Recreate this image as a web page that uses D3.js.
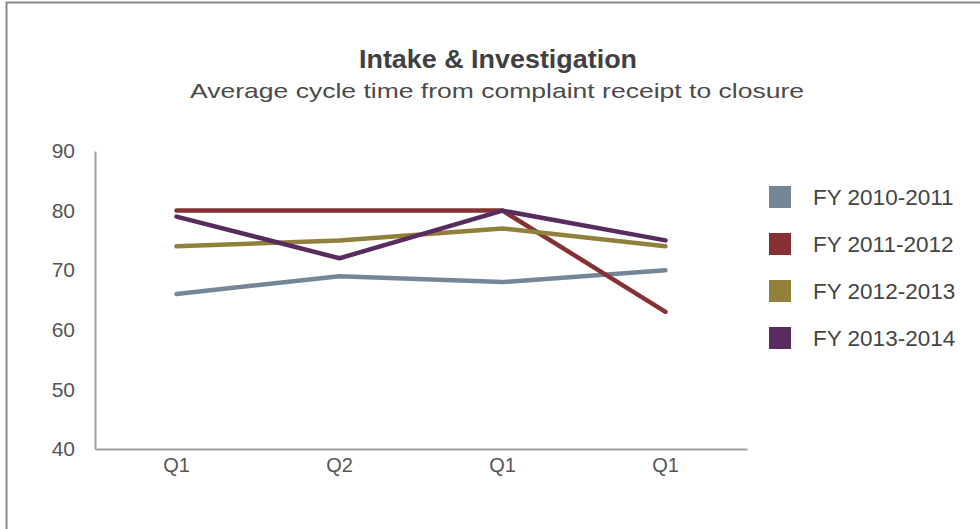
<!DOCTYPE html>
<html>
<head>
<meta charset="utf-8">
<script src="https://cdn.jsdelivr.net/npm/d3@7"></script>
<style>
  body { margin: 0; background: #fff; }
  svg { display: block; font-family: "Liberation Sans", Arial, sans-serif; }
</style>
</head>
<body>
<svg id="chart"></svg>
<script>
var quarters = ["Q1", "Q2", "Q1", "Q1"];
var seriesNames = ["FY 2010-2011", "FY 2011-2012", "FY 2012-2013", "FY 2013-2014"];
var fy1011 = [66, 69, 68, 70];
var fy1112 = [80, 80, 80, 63];
var fy1213 = [74, 75, 77, 74];
var fy1314 = [79, 72, 80, 75];
var yTicks = [40, 50, 60, 70, 80, 90];
var colors = ["#748796", "#863234", "#917f3c", "#582c5e"];

var width = 980,
    height = 529;

var svg = d3.select("#chart")
    .attr("width", width)
    .attr("height", height);

// frame (top + left edge only, like the source screenshot)
svg.append("line")
    .attr("x1", 6).attr("x2", width).attr("y1", 2.5).attr("y2", 2.5)
    .attr("stroke", "#8a8a8a").attr("stroke-width", 2);
svg.append("line")
    .attr("x1", 6.5).attr("x2", 6.5).attr("y1", 2).attr("y2", height)
    .attr("stroke", "#8a8a8a").attr("stroke-width", 2);

// titles
svg.append("text")
    .attr("x", 498).attr("y", 68)
    .attr("text-anchor", "middle")
    .attr("font-size", 25).attr("font-weight", "bold")
    .attr("fill", "#404040")
    .attr("textLength", 278).attr("lengthAdjust", "spacingAndGlyphs")
    .text("Intake & Investigation");

svg.append("text")
    .attr("x", 497).attr("y", 98)
    .attr("text-anchor", "middle")
    .attr("font-size", 21)
    .attr("fill", "#4a4a4a")
    .attr("textLength", 614).attr("lengthAdjust", "spacingAndGlyphs")
    .text("Average cycle time from complaint receipt to closure");

var x = d3.scaleBand()
    .domain(d3.range(quarters.length))
    .range([95, 747]);

var y = d3.scaleLinear()
    .domain([40, 90])
    .range([449, 151]);

// y axis
var yAxis = svg.append("g")
    .attr("transform", "translate(95,0)")
    .call(d3.axisLeft(y).tickValues(yTicks).tickSize(0).tickPadding(20));
yAxis.select(".domain").attr("stroke", "#a0a0a0").attr("stroke-width", 2);
yAxis.selectAll("text")
    .attr("font-size", 21)
    .attr("font-family", "Liberation Sans, Arial, sans-serif")
    .attr("fill", "#555");

// x axis
var xAxis = svg.append("g")
    .attr("transform", "translate(0,449)")
    .call(d3.axisBottom(x).tickFormat(function(i) { return quarters[i]; }).tickSize(0).tickPadding(9));
xAxis.select(".domain").attr("stroke", "#a0a0a0").attr("stroke-width", 2);
xAxis.selectAll("text")
    .attr("font-size", 20)
    .attr("font-family", "Liberation Sans, Arial, sans-serif")
    .attr("fill", "#555");

var series = [fy1011, fy1112, fy1213, fy1314];

var line = d3.line()
    .x(function(d, i) { return x(i) + x.bandwidth() / 2; })
    .y(function(d) { return y(d); });

svg.append("g")
  .selectAll("path")
  .data(series)
  .join("path")
    .attr("d", line)
    .attr("fill", "none")
    .attr("stroke", function(d, i) { return colors[i]; })
    .attr("stroke-width", 4.5)
    .attr("stroke-linejoin", "round")
    .attr("stroke-linecap", "round");

// legend
var legend = svg.append("g")
  .selectAll("g")
  .data(seriesNames)
  .join("g")
    .attr("transform", function(d, i) { return "translate(769," + (186 + i * 47) + ")"; });

legend.append("rect")
    .attr("width", 22).attr("height", 22)
    .attr("fill", function(d, i) { return colors[i]; });

legend.append("text")
    .attr("x", 44).attr("y", 19)
    .attr("font-size", 22.5)
    .attr("fill", "#444")
    .text(function(d) { return d; });
</script>
</body>
</html>
